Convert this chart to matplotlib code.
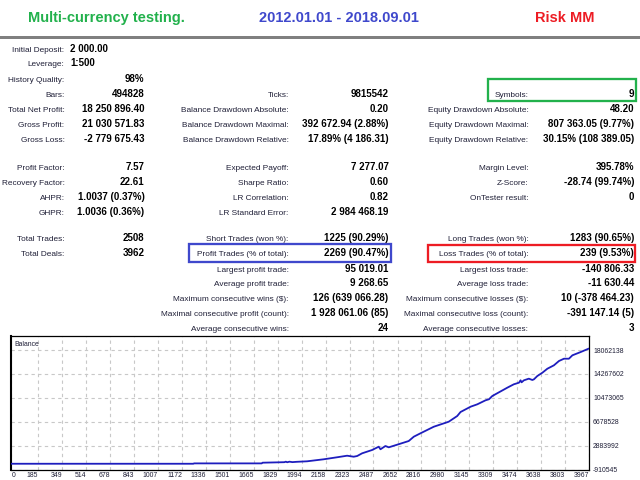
import matplotlib
matplotlib.use("Agg")
import matplotlib.pyplot as plt
from matplotlib import font_manager as fm
from matplotlib.patches import Rectangle

# ---------------- data ----------------
title_left = "Multi-currency testing."
title_mid = "2012.01.01 - 2018.09.01"
title_right = "Risk MM"

col1_labels = ["Initial Deposit:", "Leverage:", "History Quality:", "Bars:",
               "Total Net Profit:", "Gross Profit:", "Gross Loss:",
               "Profit Factor:", "Recovery Factor:", "AHPR:", "GHPR:",
               "Total Trades:", "Total Deals:"]
col1_values = ["2 000.00", "1:500", "98%", "494828",
               "18 250 896.40", "21 030 571.83", "-2 779 675.43",
               "7.57", "22.61", "1.0037 (0.37%)", "1.0036 (0.36%)",
               "2508", "3962"]
col1_rows = [0, 1, 2, 3, 4, 5, 6, 7, 8, 9, 10, 11, 12]

col2_labels = ["Ticks:", "Balance Drawdown Absolute:", "Balance Drawdown Maximal:",
               "Balance Drawdown Relative:", "Expected Payoff:", "Sharpe Ratio:",
               "LR Correlation:", "LR Standard Error:", "Short Trades (won %):",
               "Profit Trades (% of total):", "Largest profit trade:",
               "Average profit trade:", "Maximum consecutive wins ($):",
               "Maximal consecutive profit (count):", "Average consecutive wins:"]
col2_values = ["9815542", "0.20", "392 672.94 (2.88%)", "17.89% (4 186.31)",
               "7 277.07", "0.60", "0.82", "2 984 468.19", "1225 (90.29%)",
               "2269 (90.47%)", "95 019.01", "9 268.65", "126 (639 066.28)",
               "1 928 061.06 (85)", "24"]
col2_rows = [3, 4, 5, 6, 7, 8, 9, 10, 11, 12, 13, 14, 15, 16, 17]

col3_labels = ["Symbols:", "Equity Drawdown Absolute:", "Equity Drawdown Maximal:",
               "Equity Drawdown Relative:", "Margin Level:", "Z-Score:",
               "OnTester result:", "Long Trades (won %):", "Loss Trades (% of total):",
               "Largest loss trade:", "Average loss trade:",
               "Maximum consecutive losses ($):", "Maximal consecutive loss (count):",
               "Average consecutive losses:"]
col3_values = ["9", "48.20", "807 363.05 (9.77%)", "30.15% (108 389.05)",
               "395.78%", "-28.74 (99.74%)", "0", "1283 (90.65%)", "239 (9.53%)",
               "-140 806.33", "-11 630.44", "10 (-378 464.23)", "-391 147.14 (5)", "3"]
col3_rows = [3, 4, 5, 6, 7, 8, 9, 11, 12, 13, 14, 15, 16, 17]

balance_deals = [0, 1250, 1255, 1720, 1725, 1875, 1885, 1895, 1910, 1930, 1960,
                 2031, 2145, 2237, 2306, 2351, 2375, 2409, 2478, 2523, 2535,
                 2569, 2592, 2650, 2729, 2764, 2810, 2901, 3004, 3062, 3085,
                 3154, 3200, 3257, 3280, 3303, 3406, 3451, 3486, 3497, 3504,
                 3520, 3554, 3578, 3589, 3612, 3647, 3681, 3726, 3761, 3795,
                 3829, 3853, 3910, 3962]
balance_values = [2000, 2000, 60000, 60000, 170000, 250000, 330000, 240000,
                  330000, 260000, 310000, 390000, 710000, 1030000, 1280000,
                  1120000, 1230000, 1660000, 2190000, 2710000, 2300000, 2820000,
                  2610000, 3030000, 3610000, 4300000, 4840000, 5880000, 6680000,
                  7580000, 8220000, 9060000, 9440000, 10080000, 10240000,
                  10760000, 12080000, 12620000, 12870000, 13250000, 12930000,
                  13250000, 13510000, 13300000, 13410000, 13930000, 14460000,
                  15090000, 15630000, 16320000, 16680000, 16680000, 17220000,
                  17740000, 18252896]

x_ticks = [0, 185, 349, 514, 678, 843, 1007, 1172, 1336, 1501, 1665, 1829, 1994,
           2158, 2323, 2487, 2652, 2816, 2980, 3145, 3309, 3474, 3638, 3803, 3967]
y_ticks = [-910545, 2883992, 6678528, 10473065, 14267602, 18062138]
chart_title = "Balance"

# ---------------- layout / style ----------------
PT = 0.72  # px -> pt at 100 dpi
names = {f.name for f in fm.fontManager.ttflist}
if "Liberation Sans Narrow" in names:
    LFONT, k, kt = "Liberation Sans Narrow", 1.0, 1.0
else:
    LFONT, k, kt = "Liberation Sans", 0.82, 0.84
VFONT = "Liberation Sans"
lab_fs = 10.1 * PT * k
small_fs = 8.2 * PT * kt
val_fs = 9.8 * PT
LCOL = "#202038"

row_y = [48, 62, 78, 93, 108, 123.5, 138.5, 166, 181, 196, 211,
         237, 252, 268, 282, 297.5, 312, 327]
BASE = 3.6

fig = plt.figure(figsize=(6.4, 4.8), dpi=100)
fig.patch.set_facecolor("white")

# chart
L, R, T, B = 11.3, 589.0, 336.0, 469.5
ax = fig.add_axes([L / 640, 1 - B / 480, (R - L) / 640, (B - T) / 480])
ax.plot(balance_deals, balance_values, color="#1E1EBE", lw=1.3, zorder=3)
ax.set_xlim(0, 3967)
ax.set_ylim(-910545, 20285000)
ax.set_xticks(x_ticks)
ax.set_xticklabels([str(t) for t in x_ticks])
ax.set_yticks(y_ticks)
ax.set_yticklabels([str(t) for t in y_ticks])
ax.yaxis.tick_right()
ax.tick_params(axis="y", length=0, pad=2.9, labelsize=small_fs, labelcolor=LCOL)
ax.tick_params(axis="x", length=0, pad=1.8, labelsize=small_fs, labelcolor=LCOL)
for lbl in ax.get_xticklabels() + ax.get_yticklabels():
    lbl.set_family(LFONT)
for lbl in ax.get_xticklabels():
    lbl.set_ha("right")
ax.get_xticklabels()[0].set_ha("left")
ax.grid(True, color="#C8C8C8", ls=(0, (3, 3)), lw=0.8)
for s in ax.spines.values():
    s.set_color("black")
    s.set_linewidth(0.9)
ax.spines["left"].set_linewidth(1.5)

# overlay for texts
ov = fig.add_axes([0, 0, 1, 1])
ov.set_xlim(0, 640)
ov.set_ylim(480, 0)
ov.axis("off")

ov.add_patch(Rectangle((0, 35.5), 640, 3.5, color="#808080", lw=0))
tkw = dict(ha="center", va="baseline", fontsize=10.5, fontweight="bold", family=VFONT)
ov.text(106, 22, title_left, color="#22B14C", **tkw)
ov.text(339, 22, title_mid, color="#3F48CC", **tkw)
ov.text(564.5, 22, title_right, color="#ED1C24", **tkw)

def put(labels, values, rows, lx, vx, left_rows=()):
    for lab, val, r in zip(labels, values, rows):
        y = row_y[r] + BASE
        ov.text(lx, y, lab, ha="right", va="baseline", fontsize=lab_fs,
                family=LFONT, color=LCOL)
        if r in left_rows:
            ov.text(70.5, y, val, ha="left", va="baseline", fontsize=val_fs,
                    family=VFONT, fontweight="bold", color="black")
        else:
            ov.text(vx, y, val, ha="right", va="baseline", fontsize=val_fs,
                    family=VFONT, fontweight="bold", color="black")

put(col1_labels, col1_values, col1_rows, 64.5, 144.5, left_rows=(0, 1))
put(col2_labels, col2_values, col2_rows, 288.7, 388.5)
put(col3_labels, col3_values, col3_rows, 528.3, 634.0)

ov.text(14, 345.5, chart_title, ha="left", va="baseline", fontsize=small_fs,
        family=LFONT, color=LCOL)

# highlight boxes
for (x0, y0, x1, y1), c in [((487.5, 78.5, 636.0, 100.5), "#22B14C"),
                            ((189.0, 243.5, 391.0, 261.5), "#3F48CC"),
                            ((428.0, 245.0, 635.0, 261.5), "#ED1C24")]:
    ov.add_patch(Rectangle((x0, y0), x1 - x0, y1 - y0, fill=False,
                           edgecolor=c, lw=2.3 * PT))

fig.savefig("out.png", dpi=100, facecolor="white")
